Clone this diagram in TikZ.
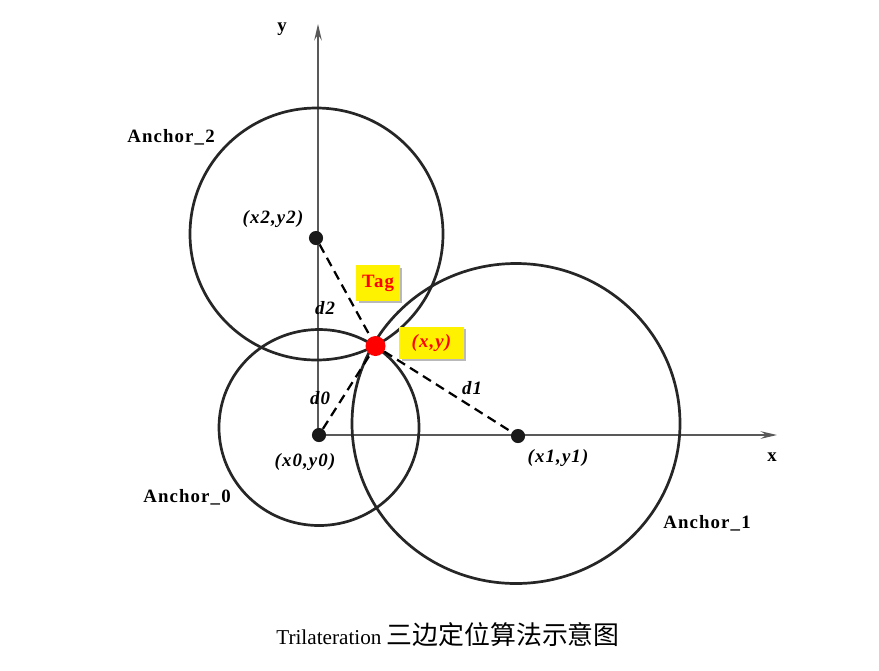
\documentclass[tikz,border=0pt]{standalone}
\usepackage{fontspec}
\setmainfont{Liberation Serif}
\newfontfamily\cjk{Noto Sans CJK SC}
\newfontfamily\lblfont[LetterSpace=6]{Liberation Serif}
\usetikzlibrary{arrows.meta,shadows}
\begin{document}
\begin{tikzpicture}
[x=0.85pt,y=-0.85pt,%
  axis/.style={draw=gray!70!black,line width=1.2pt,-{Stealth[length=14pt,width=6.5pt,inset=5pt]}},%
  ring/.style={draw=black!85,line width=2.3pt},%
  dist/.style={draw=black,line width=1.9pt,dash pattern=on 8pt off 5pt},%
  dotb/.style={circle,fill=black!90,inner sep=0pt,minimum size=12pt},%
  lbl/.style={font=\lblfont\fontsize{16}{18}\selectfont\bfseries},%
  ptlbl/.style={font=\lblfont\fontsize{16}{18}\selectfont\bfseries\itshape},%
  tagbox/.style={fill=yellow,text=red,inner sep=0pt,%
    drop shadow={shadow xshift=2pt,shadow yshift=-2pt,fill=gray!55,opacity=1}}]
\useasboundingbox (0,0) rectangle (879,670);
% axes
\coordinate (o) at (318,435);
\coordinate (ytip) at (318,24);
\coordinate (xtip) at (777,435);
\draw[axis] (o) -- (ytip);
\draw[axis] (o) -- (xtip);
\node[lbl] (ylab) at (282,29) {y};
\node[lbl] (xlab) at (772,457) {x};
% ranges
\draw[ring] (319,427.5) ellipse [x radius=100, y radius=98];
\draw[ring] (516,423.5) ellipse [x radius=164, y radius=160];
\draw[ring] (316.5,234) ellipse [x radius=126.5, y radius=126];
% anchors and tag
\node[dotb] (a0) at (319,435) {};
\node[dotb] (a1) at (518,436) {};
\node[dotb] (a2) at (316,238) {};
\node[circle,fill=red,inner sep=0pt,minimum size=17pt] (tag) at (375.5,346) {};
\draw[dist] (a2) -- (tag) -- (a1);
\draw[dist] (a0) -- (tag);
\node[lbl] (n2) at (171,137) {Anchor\_2};
\node[lbl] (n0) at (187,497) {Anchor\_0};
\node[lbl] (n1) at (707,523) {Anchor\_1};
\node[ptlbl] (c2) at (273,219) {(x2,y2)};
\node[ptlbl] (c0) at (305,462) {(x0,y0)};
\node[ptlbl] (c1) at (558,458) {(x1,y1)};
\node[ptlbl] (d2) at (325,308) {d2};
\node[ptlbl] (d0) at (320,398) {d0};
\node[ptlbl] (d1) at (472,388) {d1};
\node[tagbox,lbl,minimum width=37pt,minimum height=30pt] (tagname) at (378,283) {Tag};
\node[tagbox,ptlbl,minimum width=55pt,minimum height=27pt] (tagxy) at (431.5,343) {(x,y)};
% caption
\node (cap) at (448,635) {\fontsize{18}{20}\selectfont Trilateration {\cjk\fontsize{22}{24}\selectfont 三边定位算法示意图}};
\end{tikzpicture}
\end{document}
